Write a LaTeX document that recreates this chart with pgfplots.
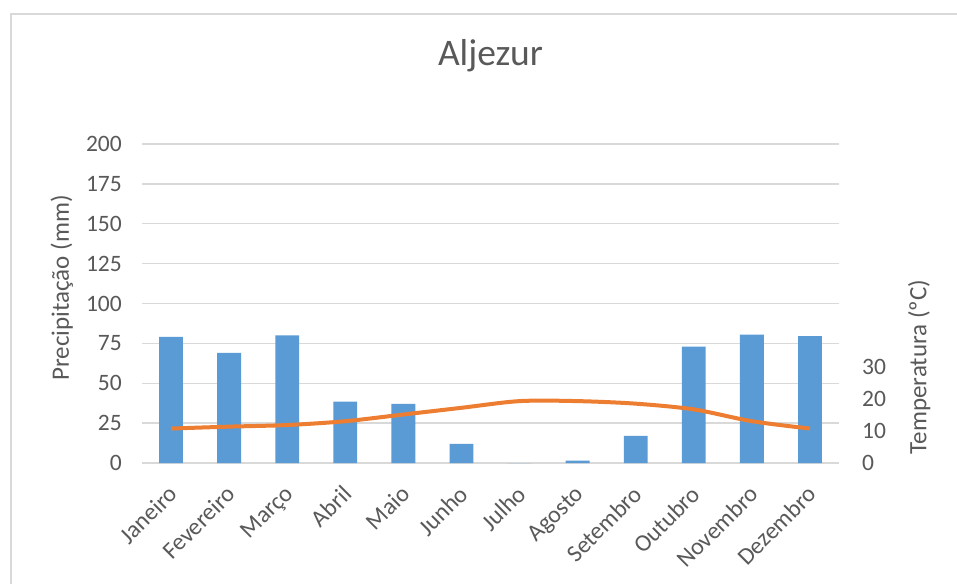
\documentclass[border=0pt]{standalone}
\usepackage{pgfplots}
\pgfplotsset{compat=1.18}
\usepackage{fontspec}
\setmainfont{Carlito}
\definecolor{barblue}{HTML}{5B9BD5}
\definecolor{lineorange}{HTML}{ED7D31}
\definecolor{txtgray}{HTML}{595959}
\definecolor{gridgray}{HTML}{D9D9D9}
\begin{document}
\begin{tikzpicture}
\useasboundingbox (0pt,0pt) rectangle (957pt,583pt);
\fill[white] (0pt,0pt) rectangle (957pt,583pt);
\draw[gridgray, line width=2.2pt] (11pt,-5pt) -- (11pt,569pt) -- (965pt,569pt);
\begin{axis}[
  at={(142pt,120pt)}, anchor=south west, scale only axis,
  width=697pt, height=319pt,
  xmin=-0.5, xmax=11.5, ymin=0, ymax=200,
  ytick={0,25,...,200},
  xtick={0,...,11},
  xticklabels={Janeiro,Fevereiro,Março,Abril,Maio,Junho,Julho,Agosto,Setembro,Outubro,Novembro,Dezembro},
  axis line style={draw=none},
  major tick length=0pt,
  ymajorgrids, grid style={gridgray, line width=1.4pt},
  tick label style={font=\fontsize{23.5}{27}\selectfont, text=txtgray},
  /pgf/number format/assume math mode=true,
  yticklabel style={anchor=east, inner sep=0pt, xshift=-20pt},
  xticklabel style={xshift=-4pt, yshift=-21pt, rotate=45, anchor=north east, inner sep=0pt, font=\fontsize{24}{27}\selectfont},
  title={Aljezur},
  title style={at={(axis description cs:0.5,1.257)}, anchor=center, font=\fontsize{37.5}{40}\selectfont, text=txtgray},
  ylabel={Precipitação (mm)},
  ylabel style={at={(axis description cs:-0.115,0.549)}, anchor=center, font=\fontsize{25}{28}\selectfont, text=txtgray},
]
\addplot[ybar, bar width=0.41, fill=barblue, draw=none] coordinates {
 (0,79) (1,69) (2,80) (3,38.5) (4,37) (5,12) (6,0) (7,1.5) (8,17) (9,73) (10,80.5) (11,79.5)
};
\end{axis}
\begin{axis}[
  at={(142pt,120pt)}, anchor=south west, scale only axis,
  width=697pt, height=319pt,
  xmin=-0.5, xmax=11.5, ymin=0, ymax=100,
  axis x line=none,
  axis y line*=right,
  axis line style={draw=none},
  ytick={0,10,20,30},
  major tick length=0pt,
  tick label style={font=\fontsize{23.5}{27}\selectfont, text=txtgray},
  /pgf/number format/assume math mode=true,
  yticklabel style={anchor=west, inner sep=0pt, xshift=23pt},
  ylabel={Temperatura (ºC)},
  ylabel style={at={(axis description cs:1.115,0.301)}, anchor=center, font=\fontsize{25}{28}\selectfont, text=txtgray},
]
\addplot[lineorange, line width=4pt, smooth, tension=0.5] coordinates {
 (0,10.8) (1,11.4) (2,11.9) (3,13.1) (4,15.2) (5,17.3) (6,19.4) (7,19.4) (8,18.6) (9,16.8) (10,13.1) (11,10.8)
};
\end{axis}
\end{tikzpicture}
\end{document}
